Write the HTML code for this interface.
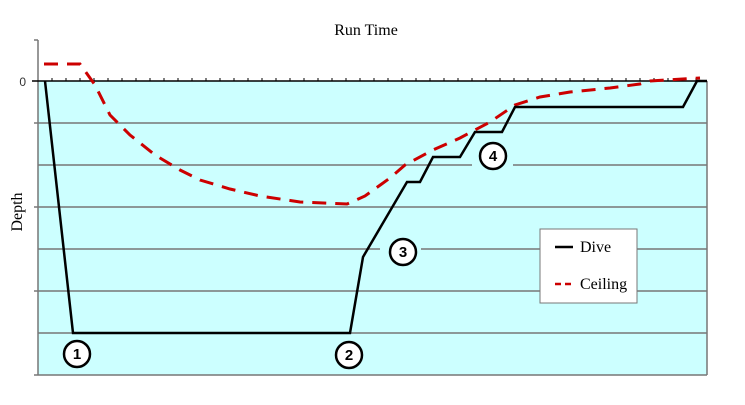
<!DOCTYPE html>
<html><head><style>body{margin:0;background:#fff}</style></head><body>
<svg width="745" height="400" xmlns="http://www.w3.org/2000/svg" font-family="Liberation Serif, serif">
<rect x="38" y="81" width="669" height="294" fill="#ccffff"/>
<g stroke="#777" stroke-width="1.5">
<line x1="38" y1="123" x2="707" y2="123"/><line x1="38" y1="165" x2="472" y2="165"/><line x1="513" y1="165" x2="707" y2="165"/>
<line x1="38" y1="207" x2="707" y2="207"/><line x1="38" y1="249" x2="380" y2="249"/><line x1="421" y1="249" x2="707" y2="249"/>
<line x1="38" y1="291" x2="707" y2="291"/><line x1="38" y1="333" x2="707" y2="333"/>
<line x1="38" y1="40" x2="38" y2="375"/><line x1="707" y1="81" x2="707" y2="375"/>
<line x1="38" y1="375" x2="707" y2="375"/>
<line x1="34" y1="40" x2="38" y2="40"/><line x1="34" y1="123" x2="38" y2="123"/><line x1="34" y1="207" x2="38" y2="207"/><line x1="34" y1="291" x2="38" y2="291"/><line x1="34" y1="375" x2="38" y2="375"/>
</g>
<line x1="32" y1="81" x2="707" y2="81" stroke="#000" stroke-width="1.5"/>
<path d="M52 81v-3M66 81v-3M80 81v-3M94 81v-3M108 81v-3M122 81v-3M136 81v-3M150 81v-3M164 81v-3M178 81v-3M192 81v-3M206 81v-3M220 81v-3M234 81v-3M248 81v-3M262 81v-3M276 81v-3M290 81v-3M304 81v-3M318 81v-3M332 81v-3M346 81v-3M360 81v-3M374 81v-3M388 81v-3M402 81v-3M416 81v-3M430 81v-3M444 81v-3M458 81v-3M472 81v-3M486 81v-3M500 81v-3M514 81v-3M528 81v-3M542 81v-3M556 81v-3M570 81v-3M584 81v-3M598 81v-3M612 81v-3M626 81v-3M640 81v-3M654 81v-3M668 81v-3M682 81v-3M696 81v-3" stroke="#000"/>
<text x="366" y="35" font-size="16" text-anchor="middle">Run Time</text>
<text x="26" y="86" font-size="12" font-family="Liberation Sans, sans-serif" text-anchor="end" fill="#333">0</text>
<text x="0" y="0" font-size="16" transform="translate(22,212) rotate(-90)" text-anchor="middle">Depth</text>
<polyline fill="none" stroke="#c00" stroke-width="3" stroke-dasharray="14,9" points="44,64 80,64 95,85 110,115 130,135 155,155 180,170 200,180 230,189 260,196 300,202 347,204 365,196 390,178 405,165 433,150 460,138 490,122 515,105 540,97 570,92 610,88 640,84 650,81 700,78"/>
<polyline fill="none" stroke="#000" stroke-width="2.5" points="45,81 73,333 350,333 363,257 407,182 420,182 433,157 460,157 475,132 502,132 515,107 683,107 697,81 707,81"/>
<g font-family="Liberation Sans, sans-serif" font-weight="bold" font-size="15" text-anchor="middle">
<circle cx="77" cy="354" r="13" fill="#fff" stroke="#000" stroke-width="2.5"/><text x="77" y="359">1</text>
<circle cx="349" cy="355" r="13" fill="#fff" stroke="#000" stroke-width="2.5"/><text x="349" y="360">2</text>
<circle cx="403" cy="252" r="13" fill="#fff" stroke="#000" stroke-width="2.5"/><text x="403" y="257">3</text>
<circle cx="493" cy="156" r="13" fill="#fff" stroke="#000" stroke-width="2.5"/><text x="493" y="161">4</text>
</g>
<rect x="540" y="229" width="97" height="74" fill="#fff" stroke="#777"/>
<line x1="555" y1="247" x2="573" y2="247" stroke="#000" stroke-width="2.5"/>
<line x1="555" y1="284" x2="575" y2="284" stroke="#c00" stroke-width="2.5" stroke-dasharray="6,4"/>
<text x="580" y="252" font-size="16">Dive</text>
<text x="580" y="289" font-size="16">Ceiling</text>
</svg>
</body></html>
